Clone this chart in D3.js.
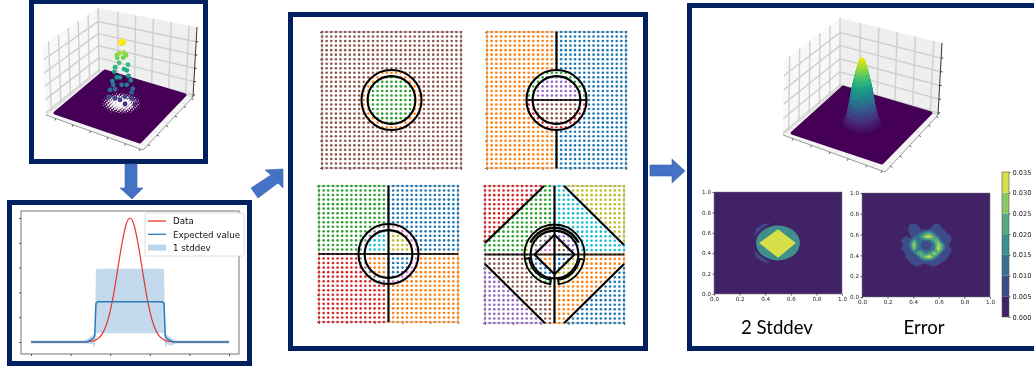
<!DOCTYPE html>
<html>
<head>
<meta charset="utf-8">
<script src="https://cdn.jsdelivr.net/npm/d3@7.9.0/dist/d3.min.js"></script>
<style>
  html, body { margin: 0; padding: 0; background: #fff; }
  svg { display: block; }
  text { font-family: "DejaVu Sans", sans-serif; }
  .caption { font-family: Lato, "Open Sans", sans-serif; font-size: 18.6px; fill: #000; text-anchor: middle; }
</style>
</head>
<body>
<svg id="chart" width="1034" height="368"></svg>
<script>
// ---- values ----
const tab10 = ['#1f77b4', '#ff7f0e', '#2ca02c', '#d62728', '#9467bd', '#8c564b', '#e377c2', '#7f7f7f', '#bcbd22', '#17becf'];
const gridIdx = [0, 1, 2, 3, 4, 5, 6, 7, 8, 9, 10, 11, 12, 13, 14, 15, 16, 17, 18, 19, 20, 21, 22, 23, 24, 25, 26, 27, 28, 29, 30];
const unitTicks = [0, 0.2, 0.4, 0.6, 0.8, 1];

// line plot
const dataX = [0, 0.25, 0.3, 0.32, 0.34, 0.36, 0.38, 0.4, 0.42, 0.44, 0.46, 0.48, 0.5, 0.52, 0.54, 0.56, 0.58, 0.6, 0.62, 0.64, 0.66, 0.68, 0.7, 0.75, 1];
const dataY = [0, 0, 0.004, 0.011, 0.029, 0.066, 0.135, 0.249, 0.411, 0.607, 0.8, 0.946, 1, 0.946, 0.8, 0.607, 0.411, 0.249, 0.135, 0.066, 0.029, 0.011, 0.004, 0, 0];
const expX = [0, 0.28, 0.295, 0.315, 0.322, 0.328, 0.336, 0.664, 0.672, 0.678, 0.685, 0.705, 0.72, 1];
const expY = [0, 0, 0.01, 0.03, 0.05, 0.31, 0.325, 0.325, 0.31, 0.05, 0.03, 0.01, 0, 0];
const bandX = [0, 0.27, 0.29, 0.315, 0.322, 0.328, 0.336, 0.664, 0.672, 0.678, 0.685, 0.71, 0.73, 1];
const bandLow = [-0.012, -0.012, -0.015, -0.02, -0.05, 0.07, 0.07, 0.07, 0.07, -0.05, -0.02, -0.03, -0.012, -0.012];
const bandHigh = [0.012, 0.012, 0.03, 0.06, 0.08, 0.58, 0.59, 0.59, 0.58, 0.08, 0.06, 0.03, 0.012, 0.012];
const legendNames = ['Data', 'Expected value', '1 stddev'];

// sampled points of the left 3D scatter: view offset, height
const scatterX = [-0.125, 0.125, 0.125, 0.375, -0.29, 0, 0.29, -0.25, 0.29, 0.32, -0.12, -0.17, 0.04, 0.17, -0.19, 0.27, -0.08, 0, 0.21, -0.14, 0.17, 0.1, -0.125, 0.2, -0.02, -0.07, 0.08, -0.08, -0.02, 0.1, 0.15, 0.04, 0, 0.06, 0.1];
const scatterZ = [0.105, 0.13, 0.016, 0.016, 0.13, 0.08, 0.105, 0.24, 0.2, 0.26, 0.25, 0.32, 0.32, 0.32, 0.38, 0.39, 0.44, 0.44, 0.46, 0.53, 0.55, 0.57, 0.6, 0.64, 0.67, 0.75, 0.75, 0.79, 0.82, 0.83, 0.79, 0.97, 1, 1.02, 0.99];

// right 3D surface: radial profile
const profileR = [0, 0.024, 0.058, 0.097, 0.12, 0.145, 0.175, 0.21];
const profileZ = [1, 0.96, 0.79, 0.54, 0.34, 0.14, 0.05, 0];

// decision regions (radii and diagonal cuts in axis units)
const ringOuter = 0.216;
const ringInner = 0.172;
const diagCut = 0.58;
const diamondHalf = 0.144;

// 2 Stddev contour regions
const stdDiamondX = [0.353, 0.5, 0.64, 0.5];
const stdDiamondY = [0.5, 0.635, 0.5, 0.355];
const stdCircleR = 0.171;
const crescentTopX = [0.306, 0.33, 0.38, 0.442, 0.39, 0.345];
const crescentTopY = [0.56, 0.64, 0.685, 0.695, 0.655, 0.61];
const crescentBotX = [0.306, 0.33, 0.38, 0.442, 0.39, 0.345];
const crescentBotY = [0.44, 0.36, 0.315, 0.305, 0.345, 0.39];

// Error field (units of 0.001), centred on the axes
const errorRows = [
  [0, 0, 0, 0, 0, 0, 0, 0, 0, 0, 0, 0, 0, 0, 0, 0, 0],
  [0, 0, 0, 0, 0, 0, 0, 0, 0, 0, 0, 0, 0, 0, 0, 0, 0],
  [0, 0, 0, 0, 0, 0, 0, 0, 0, 0, 0, 0, 0, 0, 0, 0, 0],
  [0, 0, 0, 0, 6, 7, 5, 2, 0, 2, 6, 7, 2, 0, 0, 0, 0],
  [0, 0, 0, 4, 6, 8, 6, 4, 3, 5, 8, 7, 6, 2, 0, 0, 0],
  [0, 0, 0, 2, 6, 8, 9, 12, 20, 22, 11, 7, 8, 6, 2, 0, 0],
  [0, 0, 2, 6, 3, 10, 12, 22, 32, 33, 24, 12, 6, 7, 8, 0, 0],
  [0, 0, 7, 8, 9, 24, 14, 11, 9, 11, 22, 26, 9, 6, 7, 0, 0],
  [0, 0, 4, 7, 12, 32, 13, 8, 6, 8, 12, 31, 22, 8, 3, 2, 0],
  [0, 0, 6, 8, 10, 26, 13, 10, 8, 10, 13, 33, 22, 6, 7, 0, 0],
  [0, 0, 2, 6, 6, 11, 24, 22, 13, 20, 29, 24, 9, 6, 6, 0, 0],
  [0, 0, 0, 6, 8, 7, 10, 22, 30, 33, 22, 9, 7, 7, 2, 0, 0],
  [0, 0, 0, 2, 6, 7, 8, 9, 11, 9, 7, 5, 7, 4, 0, 0, 0],
  [0, 0, 0, 0, 2, 6, 7, 4, 2, 6, 7, 5, 2, 0, 0, 0, 0],
  [0, 0, 0, 0, 0, 0, 0, 0, 0, 0, 0, 0, 0, 0, 0, 0, 0],
  [0, 0, 0, 0, 0, 0, 0, 0, 0, 0, 0, 0, 0, 0, 0, 0, 0],
  [0, 0, 0, 0, 0, 0, 0, 0, 0, 0, 0, 0, 0, 0, 0, 0, 0]
];
const errorSpanX = [0.234, 0.766];
const errorSpanY = [0.827, 0.173];

// shared colour bar
const levels = [0, 0.005, 0.01, 0.015, 0.02, 0.025, 0.03, 0.035];
const levelColors = ['#432366', '#3d4c88', '#396f90', '#3c8f8e', '#58a97f', '#8cc866', '#d8e04a'];

const navy = '#002060';
const arrowBlue = '#4472c4';

const svg = d3.select('#chart');
const soft = svg.append('defs').append('filter').attr('id', 'soft')
    .attr('x', 0).attr('y', 0).attr('width', 1).attr('height', 1);
soft.append('feGaussianBlur').attr('stdDeviation', 0.55);

// ---- frames and arrows ----
function frame(x0, y0, x1, y1) {
    svg.append('rect')
        .attr('x', x0 + 2.5).attr('y', y0 + 2.5)
        .attr('width', x1 - x0 - 5).attr('height', y1 - y0 - 5)
        .attr('fill', '#fff').attr('stroke', navy).attr('stroke-width', 5);
}
frame(29, -1, 208, 164);
frame(7, 200, 252, 366);
frame(288, 12, 648, 351);
frame(687, 3, 1044, 351);

function arrow(points) {
    svg.append('polygon')
        .attr('points', points.map(p => p.join(',')).join(' '))
        .attr('fill', arrowBlue).attr('stroke', '#3a62a8').attr('stroke-width', 0.6);
}
arrow([[125, 164], [137, 164], [137, 188], [143, 188], [132, 199], [120, 188], [125, 188]]);
arrow([[283, 169], [265, 170], [271, 175], [251, 188], [258, 198], [278, 183], [283, 188]]);
arrow([[650, 165], [672, 165], [672, 159], [685, 171], [672, 183], [672, 176], [650, 176]]);

const plots = svg.append('g').attr('filter', 'url(#soft)');

// ---- 3D helpers ----
function lerp(a, b) {
    return d3.scaleLinear().domain([0, 1]).range([a, b]);
}
// bilinear map of the unit square on to four screen corners: u runs L->F, v runs L->B
function floorMap(c) {
    return (u, v) => {
        const near = [lerp(c.L[0], c.F[0])(u), lerp(c.L[1], c.F[1])(u)];
        const far = [lerp(c.B[0], c.R[0])(u), lerp(c.B[1], c.R[1])(u)];
        return [lerp(near[0], far[0])(v), lerp(near[1], far[1])(v)];
    };
}

function drawBox(g, box) {
    const { L, F, R, B } = box.floor;
    const { tL, tB, tR } = box.top;
    const poly = (pts, fill) => g.append('polygon').attr('points', pts.map(p => p.join(',')).join(' ')).attr('fill', fill);
    const seg = (a, b, color, w) => g.append('line')
        .attr('x1', a[0]).attr('y1', a[1]).attr('x2', b[0]).attr('y2', b[1])
        .attr('stroke', color).attr('stroke-width', w);
    const mix = (a, b, t) => [lerp(a[0], b[0])(t), lerp(a[1], b[1])(t)];

    poly([L, F, R, B], '#f6f6f6');
    poly([L, B, tB, tL], '#f8f8f8');
    poly([B, R, tR, tB], '#efefef');

    const stations = [0.1, 0.28, 0.46, 0.64, 0.82];
    const heights = [0.03, 0.22, 0.41, 0.6, 0.79];
    stations.forEach(t => {
        seg(mix(L, B, t), mix(tL, tB, t), '#cfcfcf', 1.4);
        seg(mix(B, R, t + 0.1), mix(tB, tR, t + 0.1), '#cfcfcf', 1.4);
        seg(mix(L, F, t + 0.05), mix(B, R, t + 0.05), '#e6e6e6', 1);
        seg(mix(L, B, t + 0.05), mix(F, R, t + 0.05), '#e6e6e6', 1);
    });
    heights.forEach(t => {
        seg(mix(L, tL, t), mix(B, tB, t), '#cfcfcf', 1.4);
        seg(mix(B, tB, t), mix(R, tR, t), '#cfcfcf', 1.4);
        const p = mix(R, tR, t);
        seg(p, [p[0] + 2, p[1]], '#333', 1);
    });
    seg(L, B, '#cfcfcf', 1);
    seg(B, R, '#cfcfcf', 1);
    seg(B, tB, '#c6c6c6', 1.2);
    seg(L, F, '#999', 1);
    seg(F, R, '#999', 1);
    seg(R, tR, '#333', 1);
    stations.concat([0.97]).forEach(t => {
        const a = mix(L, F, t);
        seg(a, [a[0] - 1, a[1] + 2], '#444', 0.9);
        const b = mix(F, R, t);
        seg(b, [b[0] + 2, b[1] + 1], '#444', 0.9);
    });
}

function drawPlane(g, corners) {
    const { L, F, R, B } = corners;
    g.append('polygon')
        .attr('points', [L, F, R, B].map(p => p.join(',')).join(' '))
        .attr('fill', '#440154').attr('stroke', '#440154')
        .attr('stroke-width', 3).attr('stroke-linejoin', 'round');
}

// ---- left 3D scatter ----
const leftPlane = { L: [55, 113], F: [140, 142], R: [185, 95], B: [105, 71] };
const leftG = plots.append('g');
drawBox(leftG, {
    floor: { L: [46, 115], F: [143, 150], R: [193, 97], B: [99, 72] },
    top: { tL: [43, 45], tB: [98, 8], tR: [197, 27] }
});
drawPlane(leftG, leftPlane);

const leftFloor = floorMap(leftPlane);
const holeR = d3.scaleLinear().domain([0, 0.1, 0.19, 0.22]).range([1.7, 1.3, 0.5, 0]).clamp(true);
gridIdx.forEach(i => gridIdx.forEach(j => {
    const u = i / 30;
    const v = j / 30;
    const r = holeR(Math.hypot(u - 0.5, v - 0.5));
    if (r > 0) {
        const p = leftFloor(u, v);
        leftG.append('circle').attr('cx', p[0]).attr('cy', p[1] - 2).attr('r', r).attr('fill', '#fff');
    }
}));

const scatterPx = d3.scaleLinear().domain([-1, 1]).range([80, 160]);
const scatterPy = d3.scaleLinear().domain([0, 1]).range([105, 42]);
const scatterColor = z => d3.interpolateViridis(0.12 + 0.88 * Math.min(z, 1));
leftG.selectAll('.samp')
    .data(scatterX.map((x, i) => ({ x, z: scatterZ[i] })))
    .join('circle')
    .attr('class', 'samp')
    .attr('cx', d => scatterPx(d.x))
    .attr('cy', d => scatterPy(d.z))
    .attr('r', 2.4)
    .attr('fill', d => scatterColor(d.z));

// ---- line plot ----
const lineG = plots.append('g');
const lineX = d3.scaleLinear().domain([0, 1]).range([31, 229]);
const lineY = d3.scaleLinear().domain([0, 1]).range([342, 218]);
const spine = '#8a8a8a';
lineG.append('rect').attr('x', 21).attr('y', 211).attr('width', 218).attr('height', 143)
    .attr('fill', '#fff').attr('stroke', spine).attr('stroke-width', 1.2);
lineG.append('g').attr('transform', 'translate(0,354)')
    .call(d3.axisBottom(lineX).tickValues(unitTicks).tickSize(2).tickFormat(''))
    .call(a => a.selectAll('path').remove())
    .call(a => a.selectAll('line').attr('stroke', '#555'));
lineG.append('g').attr('transform', 'translate(21,0)')
    .call(d3.axisLeft(lineY).tickValues(unitTicks).tickSize(2).tickFormat(''))
    .call(a => a.selectAll('path').remove())
    .call(a => a.selectAll('line').attr('stroke', '#555'));

const band = d3.area().x((d, i) => lineX(bandX[i])).y0((d, i) => lineY(bandLow[i])).y1((d, i) => lineY(bandHigh[i]));
lineG.append('path').attr('d', band(bandX)).attr('fill', '#1f77b4').attr('fill-opacity', 0.27);
const line = d3.line().x(d => lineX(d[0])).y(d => lineY(d[1]));
lineG.append('path').attr('d', line.curve(d3.curveMonotoneX)(d3.zip(dataX, dataY)))
    .attr('fill', 'none').attr('stroke', '#e8352f').attr('stroke-width', 1.2);
lineG.append('path').attr('d', line.curve(d3.curveLinear)(d3.zip(expX, expY)))
    .attr('fill', 'none').attr('stroke', '#2f7ab5').attr('stroke-width', 1.5);

const legend = lineG.append('g');
legend.append('rect').attr('x', 145).attr('y', 213).attr('width', 99).attr('height', 43).attr('rx', 1.5)
    .attr('fill', '#fff').attr('stroke', '#d5d5d5').attr('stroke-width', 0.8);
legendNames.forEach((name, i) => {
    const y = 221 + i * 13.3;
    if (i < 2) {
        legend.append('line').attr('x1', 148).attr('x2', 166).attr('y1', y).attr('y2', y)
            .attr('stroke', i === 0 ? '#e8352f' : '#2f7ab5').attr('stroke-width', 1.3);
    } else {
        legend.append('rect').attr('x', 148).attr('y', y - 3).attr('width', 18).attr('height', 6)
            .attr('fill', '#1f77b4').attr('fill-opacity', 0.3);
    }
    legend.append('text').attr('x', 173).attr('y', y + 3.4)
        .attr('font-size', 8.7).attr('fill', '#111').text(name);
});

// ---- decision region panels ----
const inDiamond = (dx, dy) => Math.abs(dx) + Math.abs(dy) < diamondHalf;

function classA(dx, dy, r) {
    return r < ringInner ? 2 : r < ringOuter ? 1 : 5;
}
function classB(dx, dy, r) {
    if (r < ringInner) return dy > 0 ? 4 : 5;
    if (r < ringOuter) return dy > 0 ? 2 : 3;
    return dx < 0 ? 1 : 0;
}
function classC(dx, dy, r) {
    if (r < ringInner) return dy > 0 ? (dx < 0 ? 9 : 8) : (dx < 0 ? 1 : 0);
    if (r < ringOuter) return dx < 0 ? 7 : 6;
    return dy > 0 ? (dx < 0 ? 2 : 0) : (dx < 0 ? 3 : 1);
}
function classD(dx, dy, r) {
    if (inDiamond(dx, dy)) return dy > 0 ? (dx < 0 ? 6 : 5) : (dx < 0 ? 1 : 0);
    if (r < ringInner) return dy > 0 ? (dx < 0 ? 7 : 4) : (dx < 0 ? 0 : 8);
    if (r < ringOuter) return dy > 0 ? (dx < 0 ? 8 : 9) : (dx < 0 ? 2 : 8);
    const corner = Math.abs(dx) + Math.abs(dy) > diagCut;
    if (dy > 0) return dx < 0 ? (corner ? 3 : 2) : (corner ? 8 : 9);
    return dx < 0 ? (corner ? 4 : 5) : (corner ? 0 : 1);
}

function regionPanel(box, classify, drawLines) {
    const g = plots.append('g');
    const x = d3.scaleLinear().domain([0, 1]).range([box.x0, box.x1]);
    const y = d3.scaleLinear().domain([0, 1]).range([box.y1, box.y0]);
    const grid = d3.scaleLinear().domain([0, 30]).range([0, 1]);
    g.append('rect').attr('x', box.x0).attr('y', box.y0)
        .attr('width', box.x1 - box.x0).attr('height', box.y1 - box.y0)
        .attr('fill', '#fff').attr('stroke', '#9a9a9a').attr('stroke-width', 0.8);
    g.append('g').attr('transform', `translate(0,${box.y1})`)
        .call(d3.axisBottom(x).tickValues(unitTicks).tickSize(2).tickFormat(''))
        .call(a => a.selectAll('path').remove())
        .call(a => a.selectAll('line').attr('stroke', '#555'));
    g.append('g').attr('transform', `translate(${box.x0},0)`)
        .call(d3.axisLeft(y).tickValues(unitTicks).tickSize(2).tickFormat(''))
        .call(a => a.selectAll('path').remove())
        .call(a => a.selectAll('line').attr('stroke', '#555'));

    const pts = d3.cross(gridIdx, gridIdx).map(([i, j]) => [grid(i), grid(j)]);
    g.append('g').selectAll('circle').data(pts).join('circle')
        .attr('cx', d => x(d[0])).attr('cy', d => y(d[1])).attr('r', 1.3)
        .attr('fill', d => tab10[classify(d[0] - 0.5, d[1] - 0.5, Math.hypot(d[0] - 0.5, d[1] - 0.5))]);

    const cx = x(0.5);
    const cy = y(0.5);
    const k = box.x1 - box.x0;
    const ink = g.append('g').attr('fill', 'none').attr('stroke', '#000').attr('stroke-width', 2.1);
    const seg = (a, b, c, d, op) => ink.append('line')
        .attr('x1', x(a)).attr('y1', y(b)).attr('x2', x(c)).attr('y2', y(d))
        .attr('stroke-opacity', op || 1);
    drawLines({ ink, seg, cx, cy, k });
}

const rings = ({ ink, cx, cy, k }) => {
    ink.append('circle').attr('cx', cx).attr('cy', cy).attr('r', ringOuter * k);
    ink.append('circle').attr('cx', cx).attr('cy', cy).attr('r', ringInner * k);
};

regionPanel({ x0: 322, x1: 461, y0: 32, y1: 168 }, classA, rings);
regionPanel({ x0: 487, x1: 626, y0: 32, y1: 168 }, classB, o => {
    rings(o);
    o.seg(0.5, 1, 0.5, 0.5 + ringOuter);
    o.seg(0.5, 0, 0.5, 0.5 - ringOuter);
    o.seg(0.5 - ringOuter, 0.5, 0.5 + ringOuter, 0.5, 0.8);
});
regionPanel({ x0: 319, x1: 458, y0: 186, y1: 322 }, classC, o => {
    rings(o);
    o.seg(0.5, 0, 0.5, 1);
    o.seg(0, 0.5, 1, 0.5, 0.8);
});
regionPanel({ x0: 485, x1: 624, y0: 186, y1: 323 }, classD, o => {
    const { ink, seg, cx, cy, k } = o;
    seg(0.5, 0, 0.5, 1);
    seg(0, 0.5, 1, 0.5, 0.8);
    // outer diagonals
    seg(0, 0.584, 0.424, 1);
    seg(0.57, 1, 1, 0.57);
    seg(0, 0.43, 0.43, 0);
    seg(0.57, 0, 1, 0.43);
    // inner diamond
    seg(0.5 - diamondHalf, 0.5, 0.5, 0.5 + diamondHalf);
    seg(0.5, 0.5 + diamondHalf, 0.5 + diamondHalf, 0.5);
    seg(0.5 + diamondHalf, 0.5, 0.5, 0.5 - diamondHalf);
    seg(0.5, 0.5 - diamondHalf, 0.5 - diamondHalf, 0.5);
    // rings, with the open crescents on the lower half
    ink.append('circle').attr('cx', cx).attr('cy', cy).attr('r', ringInner * k);
    const arc = d3.arc();
    const deg = Math.PI / 180;
    const g = ink.append('g').attr('transform', `translate(${cx},${cy})`).attr('stroke-width', 1.8);
    g.append('path').attr('d', arc({ innerRadius: ringOuter * k, outerRadius: ringOuter * k, startAngle: -98 * deg, endAngle: 98 * deg }));
    g.append('path').attr('d', arc({ innerRadius: 0.19 * k, outerRadius: 0.195 * k, startAngle: -62 * deg, endAngle: 62 * deg }));
    g.append('path').attr('d', arc({ innerRadius: 0.185 * k, outerRadius: ringOuter * k, startAngle: 100 * deg, endAngle: 172 * deg, cornerRadius: 3 }));
    g.append('path').attr('d', arc({ innerRadius: 0.185 * k, outerRadius: ringOuter * k, startAngle: 188 * deg, endAngle: 262 * deg, cornerRadius: 3 }));
});

// ---- right 3D surface ----
const rightPlane = { L: [792, 133], F: [882, 163], R: [931, 113], B: [843, 87] };
const rightG = plots.append('g');
drawBox(rightG, {
    floor: { L: [783, 135], F: [885, 172], R: [938, 115], B: [840, 87] },
    top: { tL: [784, 60], tB: [840, 18], tR: [942, 43] }
});
drawPlane(rightG, rightPlane);

const rightFloor = floorMap(rightPlane);
const heightAt = d3.scaleLinear().domain(profileR).range(profileZ).clamp(true);
const meshIdx = d3.range(-20, 20);
const meshStep = 0.012;
const surfaceH = 67;
const vertex = (i, j) => {
    const u = 0.5 + i * meshStep;
    const v = 0.5 + j * meshStep;
    const z = heightAt(Math.hypot(u - 0.5, v - 0.5));
    const p = rightFloor(u, v);
    return [p[0], p[1] - surfaceH * z, z];
};
const quads = d3.cross(meshIdx, meshIdx)
    .sort((a, b) => (a[0] - a[1]) - (b[0] - b[1]))
    .map(([i, j]) => [vertex(i, j), vertex(i + 1, j), vertex(i + 1, j + 1), vertex(i, j + 1)])
    .filter(q => d3.max(q, p => p[2]) > 0.002);
rightG.append('g').selectAll('polygon').data(quads).join('polygon')
    .attr('points', q => q.map(p => p[0] + ',' + p[1]).join(' '))
    .attr('fill', q => d3.interpolateViridis(d3.mean(q, p => p[2])))
    .attr('stroke', q => d3.interpolateViridis(d3.mean(q, p => p[2])))
    .attr('stroke-width', 0.4);

// ---- heat maps ----
function heatAxes(box) {
    const g = plots.append('g');
    const x = d3.scaleLinear().domain([0, 1]).range([box.x0, box.x1]);
    const y = d3.scaleLinear().domain([0, 1]).range([box.y1, box.y0]);
    g.append('rect').attr('x', box.x0).attr('y', box.y0)
        .attr('width', box.x1 - box.x0).attr('height', box.y1 - box.y0)
        .attr('fill', levelColors[0]).attr('stroke', '#777').attr('stroke-width', 0.5);
    const style = a => {
        a.selectAll('path').remove();
        a.selectAll('line').attr('stroke', '#555');
        a.selectAll('text').attr('font-size', 5.6).attr('fill', '#222');
    };
    g.append('g').attr('transform', `translate(0,${box.y1})`)
        .call(d3.axisBottom(x).tickValues(unitTicks).tickSize(1.5).tickPadding(1.5).tickFormat(d3.format('.1f')))
        .call(style);
    g.append('g').attr('transform', `translate(${box.x0},0)`)
        .call(d3.axisLeft(y).tickValues(unitTicks).tickSize(1.5).tickPadding(1.5).tickFormat(d3.format('.1f')))
        .call(style);
    return { g, x, y };
}

const std = heatAxes({ x0: 714, x1: 842, y0: 192, y1: 294 });
const polyPath = (xs, ys) => xs.map((v, i) => std.x(v) + ',' + std.y(ys[i])).join(' ');
std.g.append('polygon').attr('points', polyPath(crescentTopX, crescentTopY)).attr('fill', levelColors[1]);
std.g.append('polygon').attr('points', polyPath(crescentBotX, crescentBotY)).attr('fill', levelColors[1]);
std.g.append('ellipse')
    .attr('cx', std.x(0.5)).attr('cy', std.y(0.5))
    .attr('rx', std.x(stdCircleR) - std.x(0)).attr('ry', std.y(0) - std.y(stdCircleR))
    .attr('fill', '#3f8f8c');
std.g.append('polygon').attr('points', polyPath(stdDiamondX, stdDiamondY)).attr('fill', levelColors[6]);

const err = heatAxes({ x0: 862, x1: 990, y0: 193, y1: 297 });
const errN = errorRows.length;
const cellX = d3.scaleLinear().domain([0, errN]).range(errorSpanX);
const cellY = d3.scaleLinear().domain([0, errN]).range(errorSpanY);
const errPath = d3.geoPath(d3.geoTransform({
    point(px, py) { this.stream.point(err.x(cellX(px)), err.y(cellY(py))); }
}));
const thresholds = levels.slice(1, -1).map(v => v * 1000);
err.g.append('g').selectAll('path')
    .data(d3.contours().size([errN, errN]).smooth(true).thresholds(thresholds)(errorRows.flat()))
    .join('path')
    .attr('d', errPath)
    .attr('fill', (d, i) => levelColors[i + 1]);

// ---- colour bar ----
const barY = d3.scaleLinear().domain([0, 0.035]).range([317, 172]);
const bar = plots.append('g');
bar.selectAll('rect').data(levelColors).join('rect')
    .attr('x', 1002).attr('width', 7)
    .attr('y', (d, i) => barY(levels[i + 1]))
    .attr('height', (d, i) => barY(levels[i]) - barY(levels[i + 1]))
    .attr('fill', d => d);
bar.append('rect').attr('x', 1002).attr('y', 172).attr('width', 7).attr('height', 145)
    .attr('fill', 'none').attr('stroke', '#555').attr('stroke-width', 0.6);
bar.append('g').attr('transform', 'translate(1009,0)')
    .call(d3.axisRight(barY).tickValues(levels).tickSize(1.5).tickPadding(2).tickFormat(d3.format('.3f')))
    .call(a => a.selectAll('path').remove())
    .call(a => a.selectAll('line').attr('stroke', '#555'))
    .call(a => a.selectAll('text').attr('font-size', 6.6).attr('fill', '#222'));

// ---- captions ----
svg.append('text').attr('class', 'caption').attr('x', 777).attr('y', 334).text('2 Stddev');
svg.append('text').attr('class', 'caption').attr('x', 924).attr('y', 334).text('Error');
</script>
</body>
</html>
